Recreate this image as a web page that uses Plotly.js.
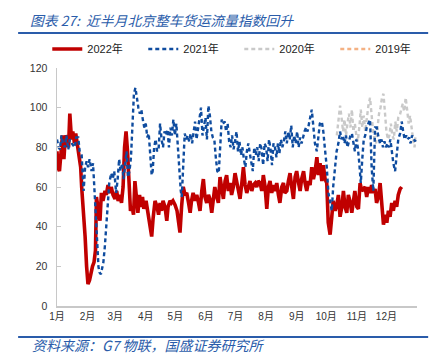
<!DOCTYPE html>
<html><head><meta charset="utf-8">
<script src="https://cdn.plot.ly/plotly-3.0.1.min.js"></script>
<style>html,body{margin:0;padding:0;background:#fff;}#chart{width:439px;height:359px;}</style>
</head><body><div id="chart"></div>
<script>
// ---- data (day of year, index value) ----
const monthTickDays = [0,31,59,90,120,151,181,212,243,273,304,334];
const monthLabels = ["1月","2月","3月","4月","5月","6月","7月","8月","9月","10月","11月","12月"];
const seriesNames = ["2022年","2021年","2020年","2019年"];

const days2022 = [0,1,2.5,4,5.5,7,8.5,10,11.7,13,14.7,16,17.7,19,21,22,24,25,27,28.5,30,31.4,33,34.5,36,37.5,39,40,41.6,43.6,45,46.6,48.7,50,51.7,53.8,55,56.8,58.8,60.5,62,64,65.4,67,68.5,70,71.5,73,74.5,76,77.6,79,80.6,82,83.7,85,86.7,88,90.3,92.3,94.3,96,97.4,99.4,101.4,103,104.5,106,107.5,109.5,111.3,112.6,114.6,116,117.6,119.7,121.7,123,124.7,126.3,128,129.8,131.5,133.4,135,136.4,138,140,141.7,143.5,145,146.8,148.4,150,151.8,153.6,155,156.9,158.7,160,162,163.6,165.3,167,168.7,170.4,172,173.7,175.5,177,178.8,180.5,182.3,184,185.6,187.4,189,190.7,192.4,194,195.7,197.5,199,200.8,202.5,204,206,207.6,209.2,211,212.7,214.3,216,217.7,219.4,221,222.8,224.5,226,227.9,229.6,231,233,234.6,236.3,238,239.7,241.4,243,244.9,246.5,248,250,251.5,253.2,255,256.6,258.3,260,261.7,263.5,265,266.7,268.5,270,271.8,273.5,275,276.9,278.6,280,282,283.7,285.3,287,288.8,290.4,292,293.8,295.4,297,298.9,300.5,302,304,305.6,307.3,309,310.7,312.4,314,315.8,317.4,319,320.8,322.5,324,325.9,327.6,329.2,331,332.7,334.4,336,337.7,339.4,341,342.8,344.4,346,347.9,349.5];
const values2022 = [78,70,68,80,86,74,86,84,80,97,84,88,82,87,80,78,70,60,48,35,20,11,13,18,20,22,28,55,50,43,57,53,58,56,61,57,60,56,54,58,53,56,52,60,80,88,78,58,48,50,46,63,52,47,56,50,55,49,53,46,40,35,44,53,50,46,52,48,53,50,43,50,53,52,53,51,48,44,37,50,60,56,57,52,47,53,57,53,56,52,48,58,64,55,52,56,54,47,55,60,55,52,65,58,54,63,66,58,62,56,60,67,63,58,54,62,70,61,57,60,63,58,61,62,60,63,62,58,66,60,49,60,63,57,61,58,62,56,52,60,62,57,58,63,67,60,54,65,68,62,58,64,68,62,58,63,61,70,64,68,75,66,72,63,71,64,62,42,36,45,53,48,51,56,45,50,58,50,47,56,53,47,55,58,50,49,62,58,59,60,55,60,57,61,57,59,52,55,62,50,41,46,42,48,45,52,48,53,50,56,59,60];

const days2021 = [0,1.5,3,4.5,6,8,9.5,11.5,13,15,18,19.5,21.5,23,25,26,27,28.5,30,31.5,33,35,36.5,37.5,38.5,40,41,42,43,44.5,46,47,48.5,50,51.5,53,55,56.5,58,60,61.5,63,64.5,66,67.5,69,70.5,72,73.5,75,76,77,78,79.5,81,82.5,84,85.5,87,88.5,90,91.5,93,94.5,96,97,98.5,100,101.5,103,104.5,106,107.5,109,110.5,112,113.5,115,116.5,118,119.5,121,122.5,124,125.5,126.5,128,129.5,131,132.5,134,135.5,137,138.5,140,141.5,143,144.5,146,147.5,149,150.5,152,153.5,155,156.5,158,159.5,161,162.5,164,165.5,167,168.5,170,171.5,173,174.5,176,177.5,179,180.5,182,183.5,185,186.5,188,189.5,191,192.5,194,195.5,197,198.5,200,201.5,203,204.5,206,207.5,209,210.5,212,213.5,215,216.5,218,219.5,221,222.5,224,225.5,227,228.5,230,231.5,233,234.5,236,237.5,239,240.5,242,243.5,245,246.5,248,249.5,251,252.5,254,255.5,257,258.3,260,261.5,263.4,265,266.5,268.5,270,271.5,273.5,275.2,276.9,278.6,280,282,283.5,285.3,287,288.5,290,291.5,293,294.5,296,297.5,299,300.5,302,303.5,305,306.5,308,309.5,311,312.5,314,315.7,317.4,319,320.7,322.5,324.2,326,327.5,329,330.5,332,333.5,335,336.5,338,339.5,341,342.8,344.5,346,347.9,349.5,351,352.5,354,355.5,357,358.5,360,361.5,363,364];
const values2021 = [84,80,79,86,82,80,86,79,84,82,80,85,85,78,76,62,58,70,73,70,74,68,72,63,55,44,30,20,17,16,21,22,30,42,53,62,67,64,68,57,64,74,68,72,64,72,78,65,68,75,84,95,107,110,104,100,97,99,94,90,92,85,87,75,66,68,80,84,78,79,92,84,80,88,86,89,80,90,86,94,86,92,80,67,58,55,75,87,84,86,83,87,82,88,93,84,90,96,100,86,90,95,84,101,96,88,85,84,75,68,67,78,94,92,93,88,92,83,80,86,79,83,88,78,83,76,80,74,70,78,82,77,72,68,80,76,80,73,82,79,71,82,80,73,84,79,71,82,80,75,82,77,84,80,83,88,82,88,84,91,80,86,82,88,80,85,82,86,88,90,88,92,96,99,90,82,78,86,92,93,88,80,70,57,52,48,60,73,78,82,88,84,86,82,86,80,84,86,87,82,78,84,80,72,62,74,84,86,90,92,94,70,58,90,90,85,82,84,80,83,80,82,80,84,78,72,68,78,84,87,93,88,84,86,84,85,82,86,84,83,85];

const days2020 = [283.7,285.3,287,288.5,290,291.5,293,294.5,296,297.5,299,300.5,302,303.5,305,306.5,308,309.5,311,312.5,314,315.7,317.4,319,320.5,322,323.5,325,326.5,328,329.5,331,332.5,334,335.5,337,338.5,340,341.5,343,344.5,346,347.5,349,350.5,352,353.5,355,356.5,358,359.5,361,362.5,363.5];
const values2020 = [86,93,101,95,88,94,86,92,97,90,99,88,92,86,83,90,99,90,96,88,95,101,105,95,88,84,82,90,97,100,105,107,96,88,84,86,92,86,84,93,88,95,96,99,102,98,105,99,92,96,88,84,80,86];

const days2019 = [0,364];
const values2019 = [null,null];

const traces = [
  {name: seriesNames[2], x: days2020, y: values2020, type:'scatter', mode:'lines',
   line:{color:'#C9C9C9', width:2.4, dash:'4px,3px'}, legendrank:3},
  {name: seriesNames[3], x: days2019, y: values2019, type:'scatter', mode:'lines',
   line:{color:'#F4B183', width:2.4, dash:'4px,3px'}, legendrank:4},
  {name: seriesNames[0], x: days2022, y: values2022, type:'scatter', mode:'lines',
   line:{color:'#C00000', width:3.6}, legendrank:1},
  {name: seriesNames[1], x: days2021, y: values2021, type:'scatter', mode:'lines',
   line:{color:'#0F4C9F', width:2.4, dash:'4px,3px'}, legendrank:2}
];

const blue = '#2A5CAA';
const layout = {
  width:439, height:359,
  margin:{l:57, r:22, t:68, b:53},
  paper_bgcolor:'#fff', plot_bgcolor:'#fff',
  font:{family:'"Liberation Sans", Arial, "Noto Sans CJK SC", sans-serif', color:'#222'},
  showlegend:true,
  legend:{orientation:'h', x:-0.027, xanchor:'left', y:1.08, yanchor:'middle',
    font:{size:11, color:'#222', family:'"Liberation Sans", Arial, "Noto Sans CJK SC", sans-serif'},
    entrywidth:51, entrywidthmode:'pixels', bgcolor:'rgba(0,0,0,0)'},
  xaxis:{range:[0,365], tickmode:'array', tickvals:monthTickDays, ticktext:monthLabels,
    showgrid:false, zeroline:false, showline:true, linecolor:'#C8C8C8', linewidth:1.5,
    ticks:'', tickfont:{size:10, color:'#333'}, fixedrange:true},
  yaxis:{range:[0,120], tickvals:[0,20,40,60,80,100,120], showgrid:false, zeroline:false,
    showline:true, linecolor:'#C8C8C8', linewidth:1.5, ticks:'inside', ticklen:4, tickcolor:'#C8C8C8',
    tickfont:{size:10.5, color:'#333'}, ticklabelstandoff:6, fixedrange:true},
  shapes:[
    {type:'line', xref:'paper', yref:'paper', x0:-0.108, x1:1.031, y0:1.147, y1:1.147, line:{color:blue, width:2}},
    {type:'line', xref:'paper', yref:'paper', x0:-0.108, x1:1.031, y0:-0.130, y1:-0.130, line:{color:blue, width:2}}
  ],
  annotations:[
    {text:'图表 27:  近半月北京整车货运流量指数回升', xref:'paper', yref:'paper', x:-0.081, y:1.20,
     xanchor:'left', yanchor:'middle', showarrow:false,
     font:{size:13.8, color:blue, style:'italic', family:'"Noto Sans CJK SC", sans-serif'}},
    {text:'资料来源：G7 物联，国盛证券研究所', xref:'paper', yref:'paper', x:-0.075, y:-0.164,
     xanchor:'left', yanchor:'middle', showarrow:false,
     font:{size:14, color:blue, style:'italic', family:'"Noto Sans CJK SC", sans-serif'}}
  ]
};
Plotly.newPlot('chart', traces, layout, {staticPlot:true, displayModeBar:false});
</script></body></html>
